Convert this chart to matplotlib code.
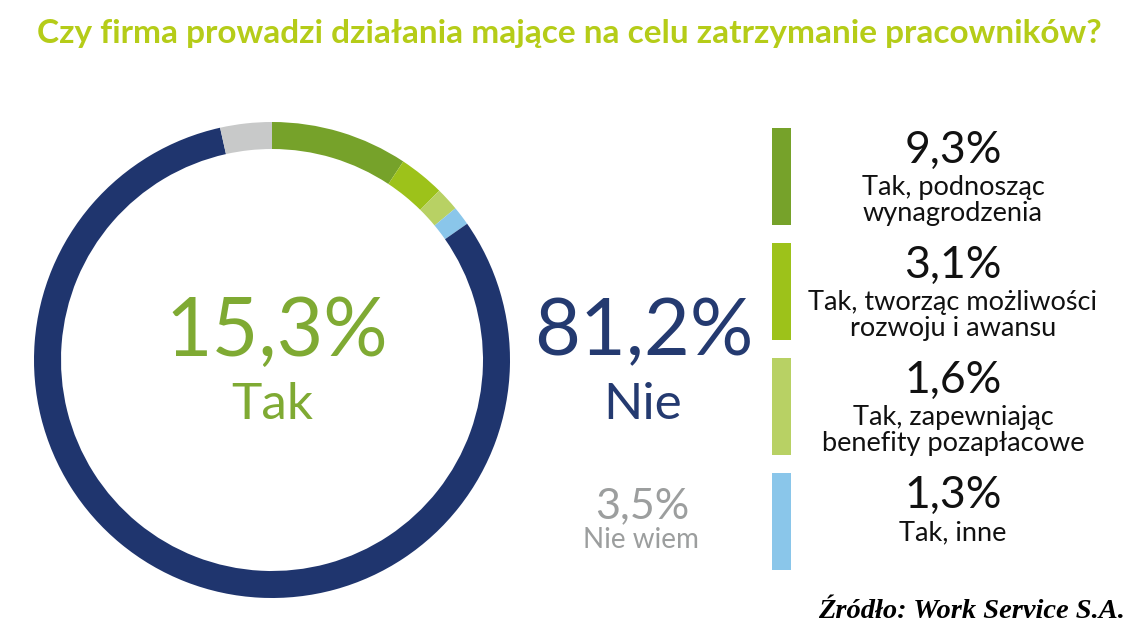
import matplotlib
matplotlib.use("Agg")
import matplotlib.pyplot as plt

W, H = 1140, 644

shares = [9.3, 3.1, 1.6, 1.3, 81.2, 3.5]
share_labels = ["9,3%", "3,1%", "1,6%", "1,3%", "81,2%", "3,5%"]
colors = ["#76A22A", "#9DC21A", "#B8D164", "#8AC6EA", "#1F356E", "#C8C9C9"]
legend_names = [
    "Tak, podnosząc\nwynagrodzenia",
    "Tak, tworząc możliwości\nrozwoju i awansu",
    "Tak, zapewniając\nbenefity pozapłacowe",
    "Tak, inne",
]
tak_total = "15,3%"

body = "Lato"

fig = plt.figure(figsize=(W / 100, H / 100), dpi=100)
ax = fig.add_axes([0, 0, 1, 1])

# ring: y axis is inverted below, so counterclock in data = clockwise on screen
ax.pie(shares, colors=colors, startangle=-90, counterclock=True,
       radius=238, center=(272, 360), frame=True,
       wedgeprops=dict(width=27, linewidth=0))
ax.set_xlim(0, W)
ax.set_ylim(H, 0)
ax.set_aspect("equal")
ax.axis("off")

ax.text(37, 33, "Czy firma prowadzi działania mające na celu zatrzymanie pracowników?",
        family=body, fontweight="bold", fontsize=24, color="#B5CC18",
        ha="left", va="center")

# centre labels
ax.text(277, 333, tak_total, family=body, fontsize=58,
        color="#7FAA33", ha="center", va="center")
ax.text(272, 405, "Tak", family=body, fontsize=37,
        color="#7FAA33", ha="center", va="center")
ax.text(644, 333, share_labels[4], family=body, fontsize=57,
        color="#243A70", ha="center", va="center")
ax.text(643, 405, "Nie", family=body, fontsize=37,
        color="#243A70", ha="center", va="center")
ax.text(642, 506, share_labels[5], family=body, fontsize=31,
        color="#9C9E9E", ha="center", va="center")
ax.text(641, 540, "Nie wiem", family=body, fontsize=20,
        color="#9C9E9E", ha="center", va="center")

# legend bars
bar_tops = [128, 243, 358, 473]
for i, top in enumerate(bar_tops):
    ax.bar(781, 97, width=19, bottom=top, color=colors[i], linewidth=0)
    ax.text(953, top + 22, share_labels[i], family=body,
            fontsize=32, color="#111111", ha="center", va="center")
    ax.text(953, top + 47, legend_names[i], family=body, fontsize=19.5,
            color="#111111", ha="center", va="top", linespacing=1.05)

ax.text(1125, 612, "Źródło: Work Service S.A.", family="Liberation Serif",
        fontweight="bold", style="italic", fontsize=20.5, color="black",
        ha="right", va="center")

fig.savefig("out.png", dpi=100)
